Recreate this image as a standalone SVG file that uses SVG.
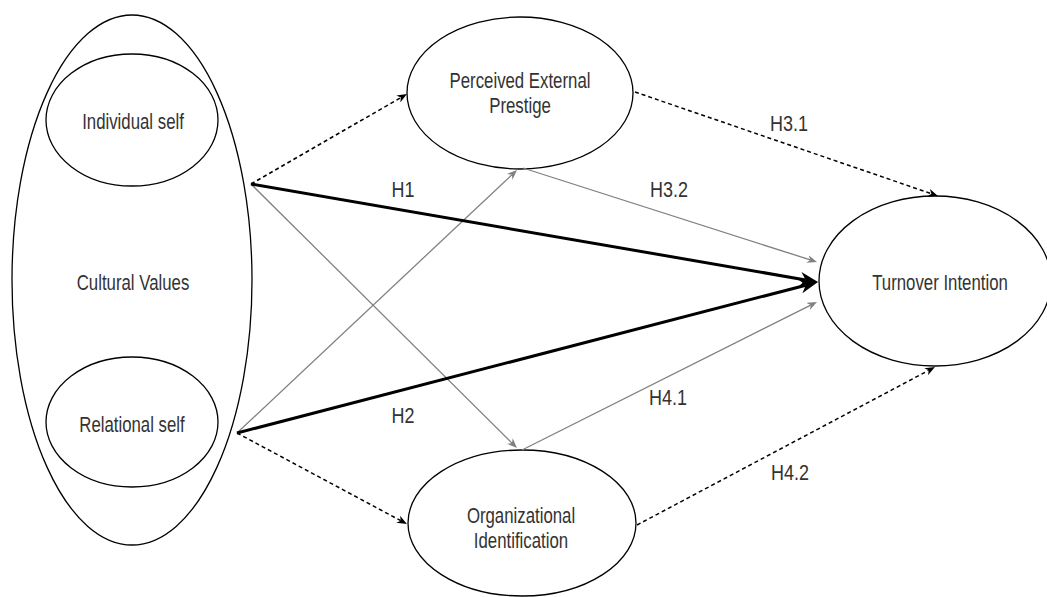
<svg xmlns="http://www.w3.org/2000/svg" width="1047" height="597" viewBox="0 0 1047 597">
<style>
.node{fill:#fff;stroke:#000;stroke-width:1.3}
.lbl{font-family:"Liberation Sans",Arial,sans-serif;font-size:16.8px;fill:#333;text-anchor:middle}
.hl{font-family:"Liberation Sans",Arial,sans-serif;font-size:18px;fill:#333;text-anchor:middle}
.dash{fill:none;stroke:#000;stroke-width:1.5;stroke-dasharray:4 3;marker-end:url(#mBlack)}
.gray{fill:none;stroke:#808080;stroke-width:1.3;marker-end:url(#mGray)}
.thick{fill:none;stroke:#000;stroke-width:3;marker-end:url(#mThick)}
</style>
<defs>
<marker id="mBlack" viewBox="0 0 10 10" markerUnits="userSpaceOnUse" markerWidth="10" markerHeight="8" refX="3" refY="5" orient="auto" preserveAspectRatio="none"><path d="M0,0 L10,5 L0,10 L3,5 z" fill="#000"/></marker>
<marker id="mGray" viewBox="0 0 10 10" markerUnits="userSpaceOnUse" markerWidth="10" markerHeight="8" refX="3" refY="5" orient="auto" preserveAspectRatio="none"><path d="M0,0 L10,5 L0,10 L3,5 z" fill="#808080"/></marker>
<marker id="mThick" viewBox="0 0 10 10" markerUnits="userSpaceOnUse" markerWidth="18" markerHeight="14" refX="3" refY="5" orient="auto" preserveAspectRatio="none"><path d="M0,0 L10,5 L0,10 L3,5 z" fill="#000"/></marker>
</defs>
<rect width="1047" height="597" fill="#fff"/>
<g id="cultural-values">
<ellipse class="node" cx="132" cy="280" rx="120" ry="265"/>
<text class="lbl" transform="translate(133,290) scale(1,1.3)">Cultural Values</text>
</g>
<g id="individual-self">
<ellipse class="node" cx="132" cy="120" rx="86" ry="66"/>
<text class="lbl" transform="translate(133,129) scale(1,1.3)">Individual self</text>
</g>
<g id="relational-self">
<ellipse class="node" cx="132" cy="422" rx="86" ry="65"/>
<text class="lbl" transform="translate(132,432) scale(1,1.3)">Relational self</text>
</g>
<g id="perceived-external-prestige">
<ellipse class="node" cx="520" cy="93" rx="113" ry="76"/>
<text class="lbl" transform="translate(520,88) scale(1,1.3)">Perceived External</text>
<text class="lbl" transform="translate(520,113) scale(1,1.3)">Prestige</text>
</g>
<g id="organizational-identification">
<ellipse class="node" cx="522" cy="523" rx="114" ry="73"/>
<text class="lbl" transform="translate(521,523) scale(1,1.3)">Organizational</text>
<text class="lbl" transform="translate(521,548) scale(1,1.3)">Identification</text>
</g>
<g id="turnover-intention">
<ellipse class="node" cx="935" cy="281" rx="116" ry="85"/>
<text class="lbl" transform="translate(940,290) scale(1,1.3)">Turnover Intention</text>
</g>
<g id="connectors">
<line class="dash" x1="251" y1="184" x2="400.9" y2="97.5"/>
<line class="gray" x1="251" y1="184" x2="512.0" y2="443.1"/>
<line class="gray" x1="237" y1="433" x2="511.9" y2="174.8"/>
<line class="dash" x1="237" y1="433" x2="400.8" y2="520.7"/>
<line class="gray" x1="523" y1="168" x2="810.3" y2="259.9"/>
<line class="gray" x1="522" y1="450" x2="810.7" y2="305.1"/>
<line class="dash" x1="635" y1="92" x2="931.4" y2="193.7"/>
<line class="dash" x1="637" y1="525" x2="928.8" y2="370.3"/>
<line class="thick" x1="251" y1="184" x2="805.6" y2="279.9"/>
<line class="thick" x1="237" y1="433" x2="805.8" y2="285.2"/>
</g>
<g id="labels">
<text class="hl" transform="translate(403,197) scale(1,1.22)">H1</text>
<text class="hl" transform="translate(403,423) scale(1,1.22)">H2</text>
<text class="hl" transform="translate(789,131) scale(1,1.22)">H3.1</text>
<text class="hl" transform="translate(669,197) scale(1,1.22)">H3.2</text>
<text class="hl" transform="translate(668,405) scale(1,1.22)">H4.1</text>
<text class="hl" transform="translate(790,480) scale(1,1.22)">H4.2</text>
</g>
</svg>
